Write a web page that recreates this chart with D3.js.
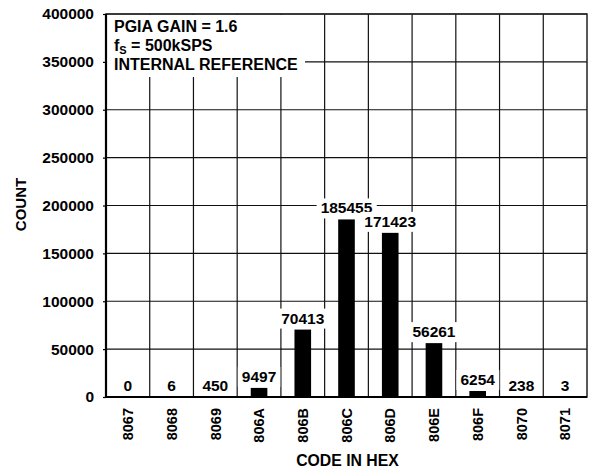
<!DOCTYPE html>
<html>
<head>
  <meta charset="utf-8">
  <script src="https://d3js.org/d3.v7.min.js"></script>
  <style>
    body { margin: 0; background: #fff; }
    text { font-family: "Liberation Sans", Arial, sans-serif; font-weight: bold; fill: #000; }
  </style>
</head>
<body>
  <div id="chart"></div>
  <script>
    // data
    var codes = ["8067", "8068", "8069", "806A", "806B", "806C", "806D", "806E", "806F", "8070", "8071"];
    var counts = [0, 6, 450, 9497, 70413, 185455, 171423, 56261, 6254, 238, 3];
    var yTicks = [0, 50000, 100000, 150000, 200000, 250000, 300000, 350000, 400000];
    var notes = ["PGIA GAIN = 1.6", "fS = 500kSPS", "INTERNAL REFERENCE"];

    var margin = { top: 14, right: 2, bottom: 73, left: 106 },
      width = 589 - margin.left - margin.right,
      height = 470 - margin.top - margin.bottom;

    var svg = d3.select("#chart")
      .append("svg")
      .attr("width", 589)
      .attr("height", 470)
      .append("g")
      .attr("transform", "translate(" + margin.left + "," + margin.top + ")");

    var x = d3.scaleBand()
      .domain(codes)
      .range([0, width])
      .padding(0);

    var y = d3.scaleLinear()
      .domain([0, 400000])
      .range([height, 0]);

    var barW = x.bandwidth() * 0.38;

    // grid
    svg.selectAll(".hgrid")
      .data(yTicks)
      .enter()
      .append("line")
      .attr("x1", 0).attr("x2", width)
      .attr("y1", function (d) { return y(d); })
      .attr("y2", function (d) { return y(d); })
      .attr("stroke", "#111")
      .attr("stroke-width", 1.2);

    svg.selectAll(".vgrid")
      .data(codes.slice(1))
      .enter()
      .append("line")
      .attr("x1", function (d) { return x(d); })
      .attr("x2", function (d) { return x(d); })
      .attr("y1", 0).attr("y2", height)
      .attr("stroke", "#111")
      .attr("stroke-width", 1.2);

    // bars
    svg.selectAll("rect.bar")
      .data(counts)
      .enter()
      .append("rect")
      .attr("class", "bar")
      .attr("x", function (d, i) { return x(codes[i]) + (x.bandwidth() - barW) / 2; })
      .attr("y", function (d) { return y(d); })
      .attr("width", barW)
      .attr("height", function (d) { return height - y(d); })
      .attr("fill", "#000");

    // value labels with white boxes
    var lab = svg.selectAll(".val")
      .data(counts)
      .enter()
      .append("g");

    lab.append("text")
      .attr("x", function (d, i) { return x(codes[i]) + x.bandwidth() / 2; })
      .attr("y", function (d) { return y(d) - 6; })
      .attr("text-anchor", "middle")
      .style("font-size", "15.5px")
      .text(function (d) { return d; });

    lab.each(function () {
      var g = d3.select(this);
      var b = g.select("text").node().getBBox();
      g.insert("rect", "text")
        .attr("x", b.x - 4)
        .attr("y", b.y - 1)
        .attr("width", b.width + 8)
        .attr("height", b.height + 3)
        .attr("fill", "#fff");
    });

    // annotation block
    var note = svg.append("g");
    note.append("rect")
      .attr("x", 1).attr("y", 1)
      .attr("width", 198).attr("height", 62)
      .attr("fill", "#fff");
    note.append("text")
      .attr("x", 8).attr("y", 18)
      .style("font-size", "16px")
      .text(notes[0]);
    var fs = note.append("text")
      .attr("x", 8).attr("y", 37)
      .style("font-size", "16px");
    fs.append("tspan").text("f");
    fs.append("tspan").attr("dy", 3).style("font-size", "11px").text("S");
    fs.append("tspan").attr("dy", -3).text(notes[1].slice(2));
    note.append("text")
      .attr("x", 8).attr("y", 56)
      .style("font-size", "16px")
      .text(notes[2]);

    // frame
    svg.append("rect")
      .attr("x", 0).attr("y", 0)
      .attr("width", width).attr("height", height)
      .attr("fill", "none")
      .attr("stroke", "#222")
      .attr("stroke-width", 1.5);
    svg.append("line")
      .attr("x1", 0).attr("x2", width)
      .attr("y1", height).attr("y2", height)
      .attr("stroke", "#000").attr("stroke-width", 2.2);
    svg.append("line")
      .attr("x1", 0).attr("x2", 0)
      .attr("y1", 0).attr("y2", height)
      .attr("stroke", "#000").attr("stroke-width", 2.2);

    // y axis labels
    var yAxis = svg.append("g")
      .call(d3.axisLeft(y).tickValues(yTicks).tickSize(3).tickPadding(9).tickFormat(d3.format("d")));
    yAxis.select(".domain").remove();
    yAxis.selectAll("text")
      .style("font-size", "15.5px")
      .style("font-family", "'Liberation Sans', Arial, sans-serif");
    yAxis.selectAll("line").attr("stroke", "#000").attr("stroke-width", 1.2);

    // x axis labels
    var xAxis = svg.append("g")
      .attr("transform", "translate(0," + height + ")")
      .call(d3.axisBottom(x).tickSize(0).tickPadding(0));
    xAxis.select(".domain").remove();
    xAxis.selectAll("text")
      .style("font-size", "14.5px")
      .style("font-family", "'Liberation Sans', Arial, sans-serif")
      .attr("text-anchor", "end")
      .attr("dy", null)
      .attr("y", 0)
      .attr("transform", "translate(5.2,11) rotate(-90)");

    // axis titles
    svg.append("text")
      .attr("x", width / 2 + 1)
      .attr("y", height + 69)
      .attr("text-anchor", "middle")
      .style("font-size", "15.8px")
      .text("CODE IN HEX");

    svg.append("text")
      .attr("transform", "translate(" + (-80) + "," + (height / 2 - 1) + ") rotate(-90)")
      .attr("text-anchor", "middle")
      .style("font-size", "15px")
      .text("COUNT");
  </script>
</body>
</html>
